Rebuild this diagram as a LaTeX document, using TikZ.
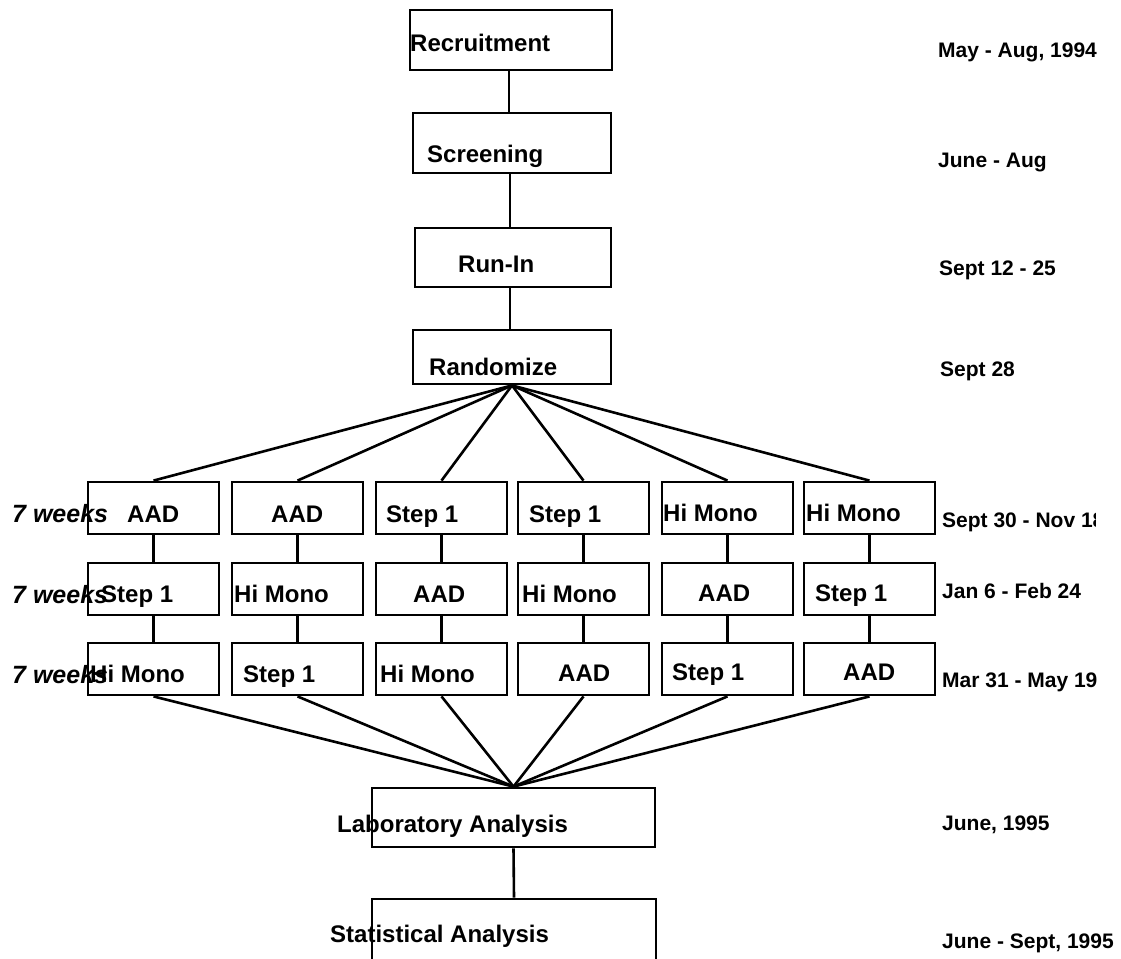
\documentclass[tikz,border=0pt]{standalone}
\usepackage{fontspec}
\setmainfont{Liberation Sans}
\begin{document}
\begin{tikzpicture}[x=1pt,y=-1pt,
  box/.style={draw, line width=2.8pt, inner sep=0pt, rectangle},
  rowbox/.style={box, minimum width=131pt, minimum height=52pt},
  lbl/.style={anchor=base west, inner sep=0pt, font=\fontsize{24}{28}\selectfont\bfseries},
  datelbl/.style={anchor=base west, inner sep=0pt, font=\fontsize{21}{25}\selectfont\bfseries},
  wk/.style={anchor=base west, inner sep=0pt, font=\fontsize{25}{29}\selectfont\bfseries\itshape},
  conn/.style={line width=2.6pt}]
\clip (0,0) rectangle (1121,958);
\fill[white] (0,0) rectangle (1121,958);

% top chain boxes
\node[box, minimum width=202pt, minimum height=60pt] (rec) at (511,40) {};
\node[box, minimum width=198pt, minimum height=60pt] (scr) at (512,143) {};
\node[box, minimum width=196pt, minimum height=59pt] (run) at (513,257.5) {};
\node[box, minimum width=198pt, minimum height=54pt] (ran) at (512,357) {};

\node[lbl] (recT) at (410,52) {Recruitment};
\node[lbl] (scrT) at (427,162) {Screening};
\node[lbl] (runT) at (458,272) {Run-In};
\node[lbl] (ranT) at (429,375) {Randomize};

\draw[conn] (rec.south) ++(-2,0) -- ++(0,43);
\draw[conn] (scr.south) ++(-2,0) -- ++(0,55);
\draw[conn] (run.south) ++(-3,0) -- ++(0,43);

% three rows of six boxes
\foreach \c/\x in {1/153.5,2/297.5,3/441.5,4/583.5,5/727.5,6/869.5}{
  \node[rowbox] (ra\c) at (\x,508) {};
  \node[rowbox] (rb\c) at (\x,589) {};
  \node[rowbox] (rc\c) at (\x,669) {};
  \draw[conn] (ran.south) -- (ra\c.north);
  \draw[conn] (ra\c.south) -- (rb\c.north);
  \draw[conn] (rb\c.south) -- (rc\c.north);
}

% row 1 texts
\node[lbl] (ta1) at (127,522) {AAD};
\node[lbl] (ta2) at (271,522) {AAD};
\node[lbl] (ta3) at (386,522) {Step 1};
\node[lbl] (ta4) at (529,522) {Step 1};
\node[lbl] (ta5) at (663,521) {Hi Mono};
\node[lbl] (ta6) at (806,521) {Hi Mono};
% row 2 texts
\node[lbl] (tb1) at (101,602) {Step 1};
\node[lbl] (tb2) at (234,602) {Hi Mono};
\node[lbl] (tb3) at (413,602) {AAD};
\node[lbl] (tb4) at (522,602) {Hi Mono};
\node[lbl] (tb5) at (698,601) {AAD};
\node[lbl] (tb6) at (815,601) {Step 1};
% row 3 texts
\node[lbl] (tc1) at (90,682) {Hi Mono};
\node[lbl] (tc2) at (243,682) {Step 1};
\node[lbl] (tc3) at (380,682) {Hi Mono};
\node[lbl] (tc4) at (558,681) {AAD};
\node[lbl] (tc5) at (672,680) {Step 1};
\node[lbl] (tc6) at (843,680) {AAD};

% 7 weeks labels
\node[wk] (w1) at (12,522) {7 weeks};
\node[wk] (w2) at (12,603) {7 weeks};
\node[wk] (w3) at (12,683) {7 weeks};

% analysis boxes
\node[box, minimum width=283pt, minimum height=59pt] (lab) at (513.5,817.5) {};
\node[box, minimum width=284pt, minimum height=80pt] (sta) at (514,939) {};
\node[lbl] (labT) at (337,832) {Laboratory Analysis};
\node[lbl] (staT) at (330,942) {Statistical Analysis};

\foreach \c in {1,...,6}{
  \draw[conn] (rc\c.south) -- (lab.north);
}
\draw[conn] (lab.south) -- (sta.north);

% dates
\node[datelbl] (d1) at (938,58) {May - Aug, 1994};
\node[datelbl] (d2) at (938,167) {June - Aug};
\node[datelbl] (d3) at (939,275) {Sept 12 - 25};
\node[datelbl] (d4) at (940,376) {Sept 28};
\begin{scope}
  \clip (930,500) rectangle (1095,540);
  \node[datelbl] (d5) at (942,527) {Sept 30 - Nov 18};
\end{scope}
\node[datelbl] (d6) at (942,598) {Jan 6 - Feb 24};
\node[datelbl] (d7) at (942,687) {Mar 31 - May 19};
\node[datelbl] (d8) at (942,830) {June, 1995};
\node[datelbl] (d9) at (942,948) {June - Sept, 1995};
\end{tikzpicture}
\end{document}
